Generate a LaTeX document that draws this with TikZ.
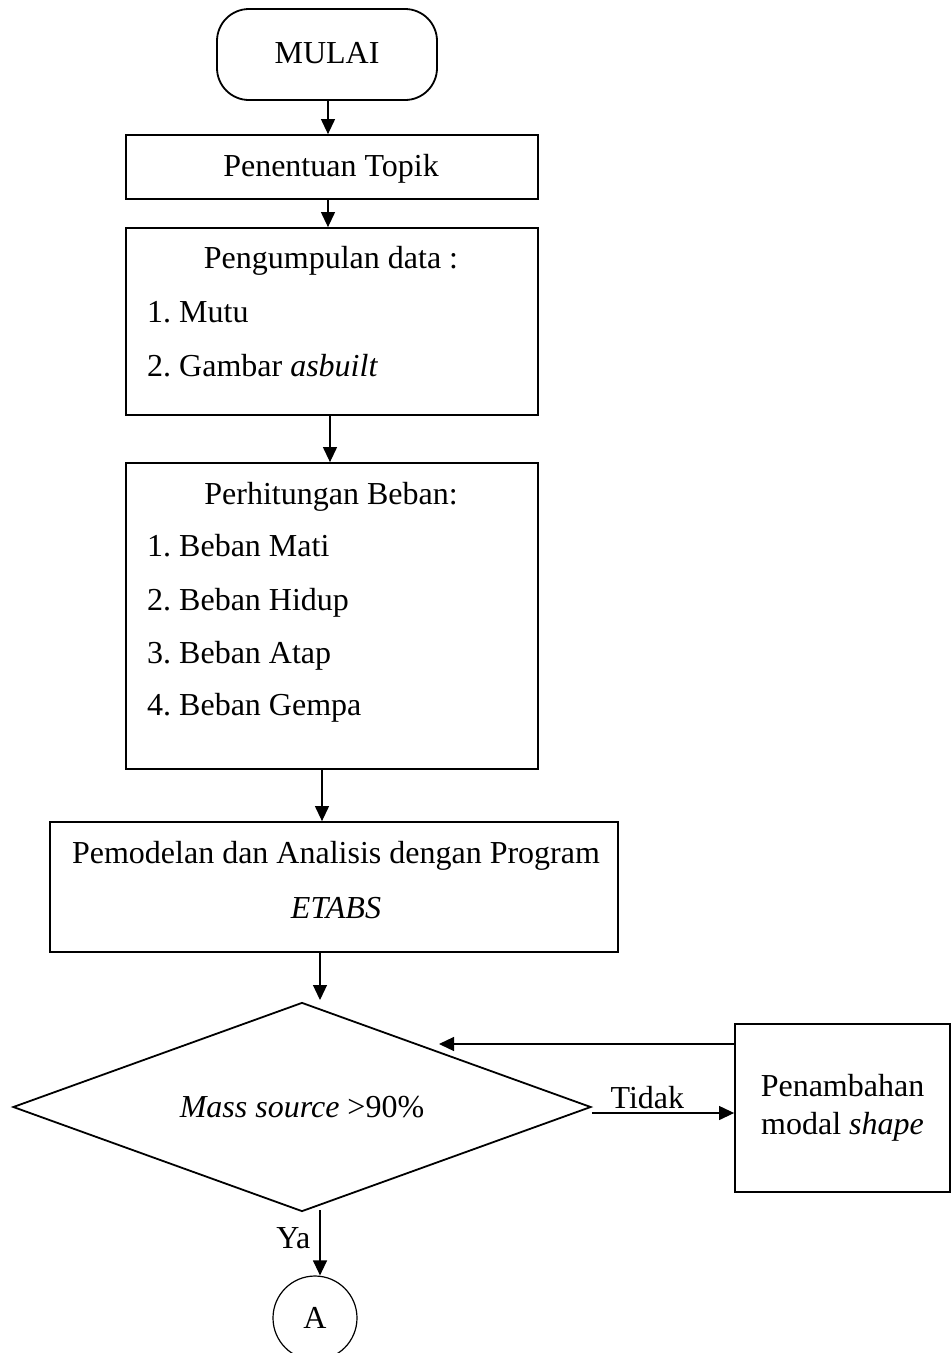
\documentclass[tikz,border=0pt]{standalone}
\usepackage{fontspec}
\setmainfont{Liberation Serif}
\usetikzlibrary{arrows.meta,shapes.geometric}
\tikzset{
  box/.style={draw, line width=1.8pt, rectangle, inner sep=0pt},
  arr/.style={line width=1.2pt, -{Triangle[length=15pt,width=14pt]}},
  txt/.style={inner sep=0pt, anchor=base},
  item/.style={inner sep=0pt, anchor=base west},
}
\begin{document}
\frenchspacing
\begin{tikzpicture}[x=1pt,y=-1pt,font=\fontsize{32}{38}\selectfont]
\clip (0,0) rectangle (951,1353);
\fill[white] (0,0) rectangle (951,1353);
% nodes
\node[box, rounded corners=32pt, minimum width=220pt, minimum height=91pt] (start) at (327,54.5) {};
\node[txt] (startt) at (327,63) {MULAI};
\node[box, minimum width=412pt, minimum height=64pt] (topic) at (332,167) {};
\node[txt] (topict) at (331,176) {Penentuan Topik};
\node[box, minimum width=412pt, minimum height=187pt] (data) at (332,321.5) {};
\node[txt] (datah) at (331,268) {Pengumpulan data :};
\node[item] (d1) at (147,322) {1. Mutu};
\node[item] (d2) at (147,376) {2. Gambar \textit{asbuilt}};
\node[box, minimum width=412pt, minimum height=306pt] (load) at (332,616) {};
\node[txt] (loadh) at (331,504) {Perhitungan Beban:};
\node[item] (l1) at (147,556) {1. Beban Mati};
\node[item] (l2) at (147,610) {2. Beban Hidup};
\node[item] (l3) at (147,663) {3. Beban Atap};
\node[item] (l4) at (147,715) {4. Beban Gempa};
\node[box, minimum width=568pt, minimum height=130pt] (model) at (334,887) {};
\node[txt] (modelt1) at (336,863) {Pemodelan dan Analisis dengan Program};
\node[txt] (modelt2) at (336,918) {\textit{ETABS}};
\node[draw, line width=1.8pt, diamond, shape aspect=2.77, inner sep=0pt, minimum width=578pt, minimum height=209pt] (dia) at (302,1107) {\textit{Mass source} >90\%};
\node[box, minimum width=215pt, minimum height=168pt, align=center] (add) at (842.5,1108) {Penambahan\\modal \textit{shape}};
\node[draw, line width=1.2pt, circle, inner sep=0pt, minimum size=84pt] (A) at (315,1318) {A};
\coordinate (dtip) at (320,1000);
\coordinate (fb) at (439,1044);
% connectors
\draw[arr] ([xshift=1pt]start.south) -- ([xshift=1pt]start.south |- topic.north);
\draw[arr] ([xshift=-4pt]topic.south) -- ([xshift=-4pt]topic.south |- data.north);
\draw[arr] ([xshift=-2pt]data.south) -- ([xshift=-2pt]data.south |- load.north);
\draw[arr] ([xshift=-10pt]load.south) -- ([xshift=-10pt]load.south |- model.north);
\draw[arr] ([xshift=-14pt]model.south) -- (dtip);
\draw[arr] ([yshift=-6pt]dia.east) -- node[pos=0.39, anchor=south, inner sep=4pt] {Tidak} ([yshift=-6pt]dia.east -| add.west);
\draw[arr] ([yshift=64pt]add.west) -- (fb);
\draw[arr] ([xshift=18pt,yshift=2pt]dia.south) -- node[pos=0.42, anchor=east, inner sep=9pt] {Ya} ([xshift=18pt]dia.south |- A.north);
\end{tikzpicture}
\end{document}
